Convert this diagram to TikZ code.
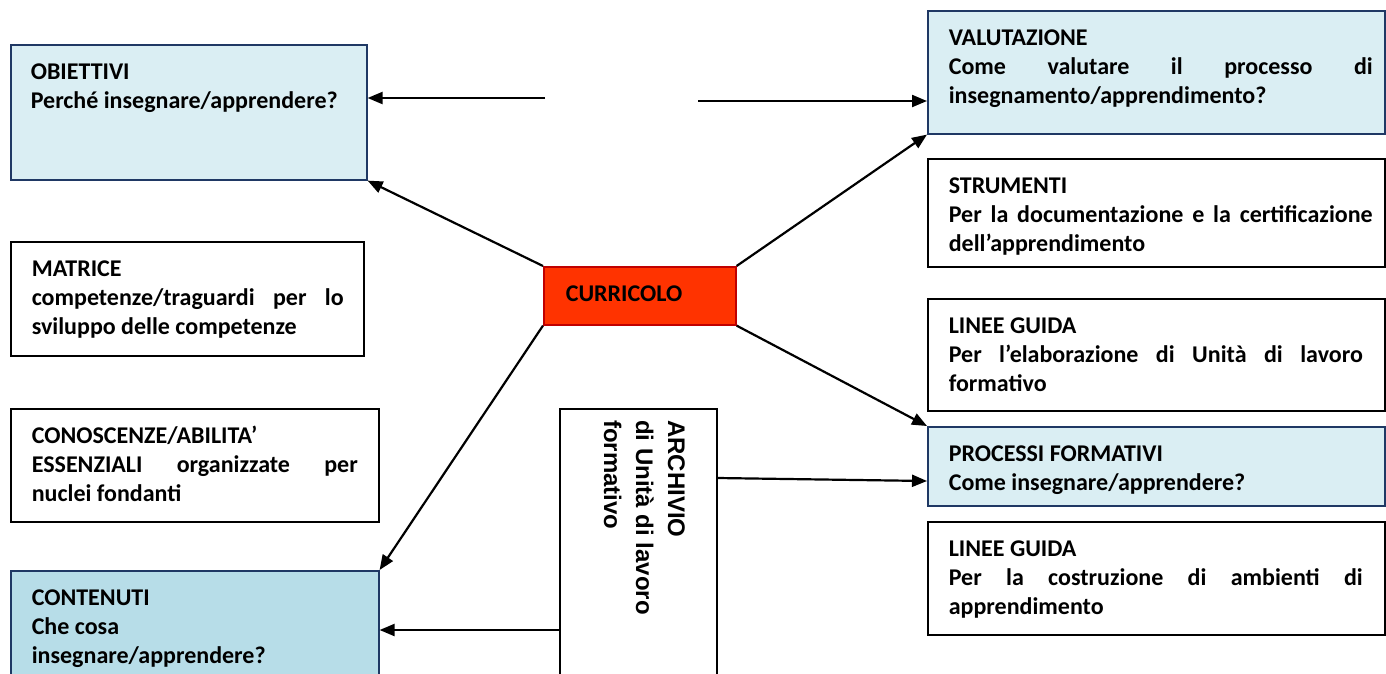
\documentclass[tikz,border=0pt]{standalone}
\usepackage{fontspec}
\setmainfont{Carlito}
\newfontfamily\arialfont{Liberation Sans}
\usetikzlibrary{arrows.meta,calc}
\definecolor{lblue}{HTML}{DAEEF3}
\definecolor{mblue}{HTML}{B7DDE8}
\definecolor{navy}{HTML}{1F3864}
\definecolor{cred}{HTML}{FF3300}
\definecolor{dred}{HTML}{C00000}
% width height leftpad rightpad text
\newcommand\bt[5]{\parbox[t][#2pt][t]{#1pt}{\fontsize{24}{29}\selectfont\bfseries\setlength\parindent{0pt}\leftskip=#3pt\rightskip=#4pt\relax\vspace*{14.7pt}\strut #5}}
\tikzset{
  boxw/.style={draw=black, line width=1.6pt, fill=white, inner sep=0pt, anchor=north west},
  boxb/.style={draw=navy, line width=1.6pt, fill=lblue, inner sep=0pt, anchor=north west},
  boxm/.style={draw=navy, line width=1.6pt, fill=mblue, inner sep=0pt, anchor=north west},
  boxr/.style={draw=dred, line width=1.6pt, fill=cred, inner sep=0pt, anchor=north west},
  arr/.style={line width=2.2pt, -{Triangle[length=15pt,width=12pt]}},
}
\begin{document}
\begin{tikzpicture}[x=1pt,y=-1pt]
\useasboundingbox (0,0) rectangle (1386,673);
% left column
\node[boxb] (obj) at (10,44) {\bt{356}{135}{20}{12}{OBIETTIVI\\Perché insegnare/apprendere?}};
\node[boxw] (mat) at (10,241) {\bt{353}{114}{21}{20}{MATRICE\\competenze/traguardi\hfill per\hfill lo\\sviluppo delle competenze}};
\node[boxw] (con) at (10,408) {\bt{368}{113}{21}{21}{CONOSCENZE/ABILITA’\\ESSENZIALI\hfill organizzate\hfill per\\nuclei fondanti}};
\node[boxm] (cont) at (10,570) {\bt{368}{130}{21}{12}{CONTENUTI\\Che cosa\\insegnare/apprendere?}};
% centre
\node[boxr] (cur) at (543,266) {\bt{192}{58}{22}{0}{CURRICOLO}};
\node[boxw, minimum width=157pt, minimum height=300pt] (arch) at (559,408) {};
\node[rotate=-90, anchor=north west, inner sep=0pt, align=left,
      font={\arialfont\bfseries\fontsize{24}{32}\selectfont}] (archtxt) at (685,420)
      {ARCHIVIO\\di Unità di lavoro\\formativo};
% right column
\node[boxb] (val) at (927,10) {\bt{457}{123}{21}{12}{VALUTAZIONE\\Come\hfill valutare\hfill il\hfill processo\hfill di\\insegnamento/apprendimento?}};
\node[boxw] (str) at (927,158) {\bt{457}{108}{21}{12}{STRUMENTI\\Per\hfill la\hfill documentazione\hfill e\hfill la\hfill certificazione\\dell’apprendimento}};
\node[boxw] (lg1) at (927,298) {\bt{457}{112}{21}{22}{LINEE GUIDA\\Per\hfill l’elaborazione\hfill di\hfill Unità\hfill di\hfill lavoro\\formativo}};
\node[boxb] (proc) at (927,426) {\bt{457}{79}{21}{12}{PROCESSI FORMATIVI\\Come insegnare/apprendere?}};
\node[boxw] (lg2) at (927,521) {\bt{457}{113}{21}{22}{LINEE GUIDA\\Per\hfill la\hfill costruzione\hfill di\hfill ambienti\hfill di\\apprendimento}};
% connectors
\coordinate (c1) at (545,98);
\coordinate (c2) at (698,101);
\draw[arr] (c1) -- (c1 -| obj.east);
\draw[arr] (c2) -- (c2 -| val.west);
\draw[arr] (cur.north west) -- (obj.south east);
\draw[arr] (cur.north east) -- (val.south west);
\draw[arr] (cur.south east) -- (proc.north west);
\draw[arr] (cur.south west) -- (cont.north east);
\draw[arr] ($(arch.north east)+(0,70)$) -- ($(proc.north west)+(0,55)$);
\coordinate (a2) at ($(arch.north west)+(0,222)$);
\draw[arr] (a2) -- (a2 -| cont.east);
\end{tikzpicture}
\end{document}
